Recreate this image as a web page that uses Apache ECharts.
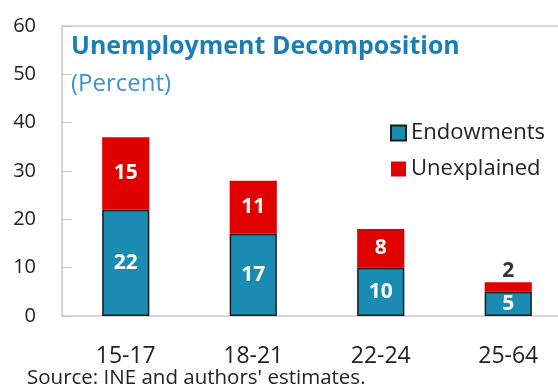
<!DOCTYPE html>
<html>
<head>
<meta charset="utf-8">
<script src="https://cdn.jsdelivr.net/npm/echarts@6/dist/echarts.min.js"></script>
<style>
  html, body { margin: 0; padding: 0; background: #fff; }
  #chart { width: 558px; height: 387px; }
</style>
</head>
<body>
<div id="chart"></div>
<script>
// data
const ageGroups = ['15-17', '18-21', '22-24', '25-64'];
const endowments = [22, 17, 10, 5];
const unexplained = [15, 11, 8, 2];
const yTicks = [0, 60, 10]; // min, max, step

const font = '"Open Sans", "Noto Sans", sans-serif';
const chart = echarts.init(document.getElementById('chart'));

// small segments get their label above the bar
const unexplainedData = unexplained.map(v => v < 4
  ? { value: v, label: { position: 'top', distance: 1, color: '#333' } }
  : v);

const option = {
  animation: false,
  textStyle: { fontFamily: font },
  grid: {
    left: 62, top: 26, width: 510, height: 290,
    outerBoundsMode: 'none', containLabel: false
  },
  title: {
    text: 'Unemployment Decomposition',
    subtext: '(Percent)',
    left: 66, top: 29, itemGap: 13,
    textStyle: { fontFamily: font, fontSize: 25, fontWeight: 'bold', color: '#1a7fb5' },
    subtextStyle: { fontFamily: font, fontSize: 24, color: '#3b95cc' }
  },
  legend: {
    orient: 'vertical', left: 385, top: 117, itemGap: 14,
    icon: 'rect', itemWidth: 15, itemHeight: 15,
    textStyle: { fontFamily: font, fontSize: 22, color: '#222' },
    data: ['Endowments', 'Unexplained']
  },
  xAxis: {
    type: 'category',
    data: ageGroups,
    axisLine: { lineStyle: { color: '#c8c8c8', width: 1.5 } },
    axisTick: { inside: true, length: 7, lineStyle: { color: '#c8c8c8' } },
    axisLabel: { fontFamily: font, fontSize: 23, color: '#222', margin: 29 }
  },
  yAxis: {
    type: 'value',
    min: yTicks[0], max: yTicks[1], interval: yTicks[2],
    splitLine: { show: false },
    axisLine: { show: true, lineStyle: { color: '#c8c8c8', width: 1.5 } },
    axisTick: { show: true, inside: true, length: 10, lineStyle: { color: '#c8c8c8' } },
    axisLabel: { fontFamily: font, fontSize: 20, color: '#222', margin: 26 }
  },
  series: [
    {
      name: 'Endowments', type: 'bar', stack: 'u', barWidth: '37%',
      data: endowments,
      itemStyle: { color: '#1a8cb2', borderColor: '#1b1b1b', borderWidth: 1.5 },
      label: { show: true, position: 'inside', color: '#fff', fontFamily: font, fontSize: 21, fontWeight: 'bold' }
    },
    {
      name: 'Unexplained', type: 'bar', stack: 'u', barWidth: '37%',
      data: unexplainedData,
      itemStyle: { color: '#e00000' },
      label: { show: true, position: 'inside', color: '#fff', fontFamily: font, fontSize: 21, fontWeight: 'bold' }
    }
  ],
  graphic: [
    {
      // hide the clipped right edge of the plot area (the frame runs off the picture)
      type: 'rect', z: 50,
      shape: { x: 554, y: 28, width: 4, height: 287 },
      style: { fill: '#fff' }
    },
    {
      // top frame line of the plot area
      type: 'line', z: 5,
      shape: { x1: 62, y1: 26, x2: 558, y2: 26 },
      style: { stroke: '#c8c8c8', lineWidth: 1.5 }
    },
    {
      type: 'text', left: 27, top: 368,
      style: { text: "Source: INE and authors' estimates.", fontFamily: font, fontSize: 20.5, fill: '#222' }
    }
  ]
};

chart.setOption(option);
</script>
</body>
</html>
